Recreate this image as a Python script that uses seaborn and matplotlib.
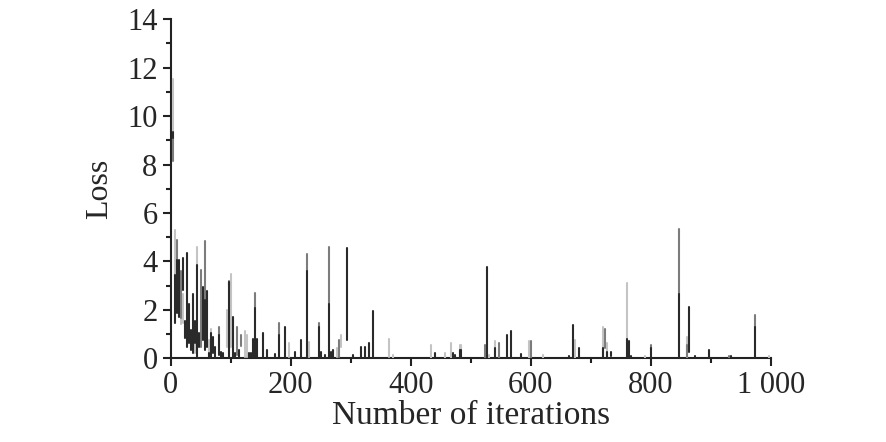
import pandas as pd
import numpy as np
import matplotlib
matplotlib.use('Agg')
import matplotlib.pyplot as plt
from matplotlib.ticker import MultipleLocator, FixedLocator, FixedFormatter
import seaborn as sns

# spikes: iteration, lower end, upper end of each vertical stroke
dark_iter = [3.5, 6.7, 10, 13.3, 20, 23.3, 26.7, 30, 33.3, 36.7, 40, 43.3, 46.7, 53.3, 56.7, 60,
             63.3, 66.7, 70, 73.3, 80, 83.3, 86.7, 96.7, 103.3, 106.7, 113.3, 130, 133.3, 136.7,
             140, 143.3, 153.3, 160, 173.3, 180, 190, 206.7, 216.7, 226.7, 246.7, 250, 256.7,
             263.3, 266.7, 270, 293.3, 303.3, 316.7, 323.3, 330, 336.7, 440, 470, 473.3, 483.3,
             482, 526.7, 540, 560, 566.7, 583.3, 663.3, 670, 680, 720, 726.7, 733.3, 760, 763.3,
             766.7, 800, 846.7, 863.3, 873.3, 896.7, 933.3, 973.3]
dark_lo = [9.1, 1.44, 1.85, 1.71, 2.81, 0.82, 0.48, 0.62, 0.34, 0.21, 0.62, 0.0, 0.48, 0.75, 0.34, 0.48,
           0.07, 0.07, 0.21, 0.07, 0.14, 0.07, 0.0, 0.07, 0.0, 0.07, 0.07, 0.07, 0.07, 0.0,
           0.07, 0.0, 0.07, 0.07, 0.0, 0.07, 0.07, 0.07, 0.07, 0.07, 0.07, 0.0, 0.0,
           0.0, 0.0, 0.0, 0.75, 0.0, 0.07, 0.07, 0.07, 0.07, 0.0, 0.0, 0.0, 0.0,
           0.0, 0.0, 0.0, 0.0, 0.07, 0.0, 0.0, 0.0, 0.0, 0.0, 0.0, 0.11, 0.0, 0.0,
           0.0, 0.0, 0.0, 0.27, 0.0, 0.0, 0.0, 0.0]
dark_hi = [9.36, 3.43, 4.07, 4.07, 4.15, 1.52, 4.35, 2.26, 1.17, 2.67, 1.56, 3.84, 1.03, 2.95, 2.40, 2.77,
           0.21, 1.03, 0.89, 0.48, 0.96, 0.27, 0.21, 3.13, 1.71, 0.21, 0.34, 0.21, 0.21, 0.80,
           2.06, 0.80, 1.03, 0.34, 0.18, 0.96, 1.29, 0.27, 0.75, 3.60, 1.29, 0.27, 0.14,
           2.26, 0.27, 0.34, 4.57, 0.14, 0.48, 0.48, 0.62, 1.95, 0.21, 0.21, 0.14, 0.34,
           0.34, 3.77, 0.41, 0.96, 1.12, 0.18, 0.11, 1.37, 0.41, 0.41, 0.27, 0.27, 0.80, 0.71,
           0.11, 0.44, 2.67, 2.12, 0.11, 0.34, 0.11, 1.30]

mid_iter = [3.5, 10, 16.7, 50, 56.7, 80, 96.7, 110, 116.7, 140, 180, 226.7, 246.7, 263.3, 280,
            523.3, 546.7, 600, 723.3, 800, 846.7, 860, 930, 973.3]
mid_lo = [8.15, 2.7, 1.65, 0.48, 2.4, 0.96, 3.0, 0.14, 0.5, 2.06, 0.96, 3.60, 1.29, 2.26, 0.07,
          0.0, 0.0, 0.0, 0.41, 0.44, 2.67, 0.07, 0.0, 1.30]
mid_hi = [9.1, 4.9, 3.6, 3.66, 4.83, 1.30, 3.18, 1.30, 0.96, 2.68, 1.44, 4.32, 1.44, 4.6, 0.75,
          0.55, 0.62, 0.71, 1.23, 0.55, 5.32, 0.55, 0.11, 1.78]

light_iter = [3.5, 6.7, 16.7, 20, 40, 43.3, 63.3, 66.7, 93.3, 100, 123.3, 126.7, 196.7, 230, 276.7,
              283.3, 363.3, 370, 433.3, 456.7, 466.7, 483.3, 482, 530, 540, 596.7, 620, 673.3,
              720, 726.7, 760, 790, 860, 996.7]
light_lo = [9.4, 3.43, 1.4, 1.44, 0.2, 3.84, 0.14, 1.03, 0.48, 0.48, 0.07, 0.07, 0.07, 0.07, 0.07,
            0.48, 0.07, 0.0, 0.0, 0.0, 0.0, 0.34, 0.0, 0.0, 0.0, 0.0, 0.0, 0.0,
            0.0, 0.0, 0.8, 0.0, 0.0, 0.0]
light_hi = [11.55, 5.3, 2.4, 2.66, 0.75, 4.6, 0.75, 1.21, 2.0, 3.5, 1.12, 0.96, 0.62, 0.69, 0.41,
            0.96, 0.80, 0.14, 0.55, 0.21, 0.62, 0.55, 0.55, 0.14, 0.71, 0.71, 0.14, 0.75,
            1.28, 0.62, 3.1, 0.11, 0.89, 0.11]

x_ticks = [0, 200, 400, 600, 800, 1000]
x_tick_labels = ['0', '200', '400', '600', '800', '1 000']
y_ticks = [0, 2, 4, 6, 8, 10, 12, 14]


def segments(iters, lo, hi):
    rows = []
    for k, (it, a, b) in enumerate(zip(iters, lo, hi)):
        rows.append({'iteration': it, 'loss': a, 'seg': k})
        rows.append({'iteration': it, 'loss': b, 'seg': k})
    return pd.DataFrame(rows)


def main():
    sns.set_style('ticks')
    plt.rcParams['font.family'] = ['Liberation Serif', 'DejaVu Serif']
    plt.rcParams['font.size'] = 22

    fig = plt.figure(figsize=(8.86, 4.42), dpi=100)
    ax = fig.add_axes([0.1927, 0.1894, 0.6772, 0.767])

    series = [
        (light_iter, light_lo, light_hi, '#c4c4c4'),
        (mid_iter, mid_lo, mid_hi, '#7c7c7c'),
        (dark_iter, dark_lo, dark_hi, '#2a2a2a'),
    ]
    for iters, lo, hi, color in series:
        df = segments(iters, lo, hi)
        sns.lineplot(data=df, x='iteration', y='loss', units='seg', estimator=None,
                     sort=False, color=color, linewidth=1.5, ax=ax, zorder=3)

    ax.set_xlim(0, 1000)
    ax.set_ylim(0, 14)
    ax.xaxis.set_major_locator(FixedLocator(x_ticks))
    ax.xaxis.set_major_formatter(FixedFormatter(x_tick_labels))
    ax.xaxis.set_minor_locator(MultipleLocator(100))
    ax.yaxis.set_major_locator(FixedLocator(y_ticks))
    ax.yaxis.set_minor_locator(MultipleLocator(1))

    sns.despine(ax=ax)
    for side in ['left', 'bottom']:
        ax.spines[side].set_linewidth(1.5)
        ax.spines[side].set_color('#222222')
    ax.tick_params(which='major', direction='out', length=6, width=1.5, color='#222222',
                   labelsize=22, pad=3.5)
    ax.tick_params(which='minor', direction='out', length=3.6, width=1.5, color='#222222')

    ax.set_xlabel('Number of iterations', fontsize=24, labelpad=0)
    ax.set_ylabel('Loss', fontsize=23, labelpad=9)

    fig.savefig('out.png', dpi=100)
    plt.close(fig)


if __name__ == "__main__":
    main()
